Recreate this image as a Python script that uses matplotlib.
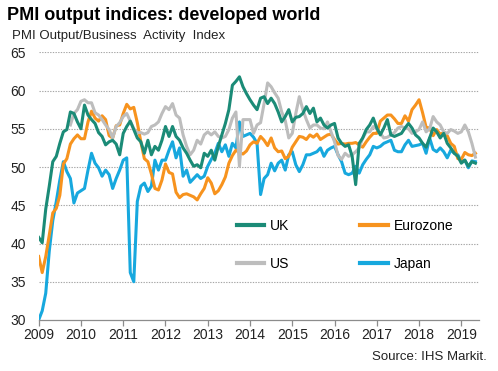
import numpy as np
import pandas as pd
import matplotlib
matplotlib.use("Agg")
import matplotlib.pyplot as plt

plt.rcParams['font.family'] = ['Liberation Sans', 'DejaVu Sans']

# ---- data (monthly, Jan 2009 - May 2019) ----
uk = [40.8, 40.1, 44.5, 47.5, 50.7, 51.4, 53.1, 54.6, 54.9, 57.2, 57.0, 55.9,
      55.0, 58.1, 56.8, 56.2, 55.7, 54.5, 54.0, 52.9, 53.3, 53.5, 53.0, 51.6,
      54.4, 55.3, 56.0, 54.9, 53.8, 53.3, 51.8, 53.5, 51.6, 52.7, 52.2, 53.5,
      55.3, 54.0, 55.3, 54.0, 53.5, 52.5, 51.8, 50.9, 50.1, 50.3, 49.9, 51.8,
      51.4, 52.2, 50.9, 52.7, 54.2, 55.7, 57.5, 60.7, 61.2, 61.8, 60.5, 59.6,
      58.8, 58.1, 57.5, 59.0, 59.2, 58.3, 59.0, 58.3, 57.2, 55.9, 56.6, 57.5,
      55.9, 56.5, 56.6, 57.0, 57.9, 57.0, 57.7, 55.9, 56.4, 55.5, 55.1, 55.5,
      55.7, 53.8, 53.1, 52.7, 52.9, 51.4, 47.7, 53.1, 53.8, 54.9, 55.5, 56.4,
      55.1, 54.2, 55.1, 56.2, 54.2, 54.0, 54.2, 54.4, 55.1, 55.7, 55.1, 54.2,
      53.8, 53.1, 52.6, 53.8, 55.1, 54.6, 53.8, 54.4, 53.1, 52.5, 51.8, 51.4,
      50.5, 50.9, 50.1, 50.7, 50.5]

eurozone = [38.3, 36.2, 38.3, 41.1, 44.0, 44.6, 46.3, 50.4, 51.1, 53.0, 53.7, 54.2,
            53.7, 53.7, 55.9, 57.3, 56.4, 56.0, 56.7, 56.2, 54.1, 53.8, 55.4, 55.5,
            57.0, 58.2, 57.6, 57.8, 55.8, 53.3, 51.1, 50.7, 49.1, 47.2, 47.0, 48.3,
            50.4, 49.3, 49.1, 46.7, 46.0, 46.4, 46.5, 46.3, 46.1, 45.7, 46.5, 47.2,
            48.6, 47.9, 46.5, 46.9, 47.7, 48.7, 50.5, 51.5, 52.2, 51.9, 51.7, 52.1,
            52.9, 53.3, 53.1, 54.0, 53.5, 52.8, 53.8, 52.5, 52.0, 52.1, 51.1, 51.4,
            52.6, 53.3, 54.0, 53.9, 53.6, 54.2, 53.9, 54.3, 53.6, 53.9, 54.2, 54.3,
            53.6, 53.0, 53.1, 53.0, 53.1, 53.1, 53.2, 52.9, 52.6, 53.3, 53.9, 54.4,
            54.4, 56.0, 56.4, 56.8, 56.8, 56.3, 55.7, 55.7, 56.7, 56.0, 57.5, 58.1,
            58.8, 57.1, 55.2, 55.1, 54.1, 54.9, 54.3, 54.5, 54.1, 53.1, 52.7, 51.1,
            51.0, 51.9, 51.6, 51.5, 51.8]

us = [np.nan] * 9 + [55.5, 57.0, 57.5,
      58.6, 58.8, 58.4, 58.4, 57.1, 56.8, 56.2, 55.5, 54.9, 53.8, 55.3, 55.8,
      56.6, 57.0, 56.0, 55.0, 54.5, 54.5, 54.3, 54.5, 55.3, 55.5, 55.9, 57.0,
      57.9, 57.5, 58.3, 56.8, 56.4, 54.2, 52.7, 51.6, 52.2, 53.5, 53.0, 54.2,
      54.6, 54.2, 54.6, 54.0, 53.8, 54.0, 54.9, 56.4, 57.2, 50.1, 56.2, 56.2,
      56.2, 54.4, 55.5, 55.8, 58.3, 61.0, 60.5, 59.7, 59.0, 57.2, 56.1, 53.8,
      54.4, 57.0, 59.2, 57.5, 56.2, 55.1, 55.5, 55.5, 55.1, 55.0, 55.9, 54.6,
      53.3, 51.5, 51.0, 51.8, 51.4, 51.6, 52.0, 52.5, 53.8, 54.6, 54.6, 55.3,
      55.0, 54.4, 53.8, 53.9, 54.2, 54.5, 55.1, 55.3, 55.1, 55.0, 54.4, 54.6,
      54.9, 55.9, 54.6, 55.0, 56.6, 55.9, 55.5, 54.6, 54.4, 54.9, 54.7, 54.4,
      54.6, 55.5, 54.6, 53.1, 51.3]

japan = [30.0, 31.2, 33.5, 39.0, 43.0, 45.5, 48.3, 50.7, 49.4, 48.5, 45.3, 46.6,
         46.9, 47.2, 49.6, 51.8, 50.5, 49.9, 48.8, 49.6, 49.0, 47.2, 48.5, 49.6,
         50.9, 51.2, 36.2, 35.0, 45.5, 47.5, 47.9, 46.8, 47.5, 50.9, 49.6, 50.9,
         50.9, 52.2, 53.3, 51.2, 52.5, 48.8, 49.6, 48.0, 48.5, 49.0, 48.5, 48.8,
         50.1, 51.0, 51.8, 53.1, 52.0, 52.9, 51.4, 53.1, 52.5, 55.9, 54.0, 54.2,
         54.4, 53.9, 53.1, 46.4, 48.5, 49.0, 50.5, 49.5, 50.5, 50.9, 49.6, 51.6,
         52.0, 50.3, 49.4, 50.3, 51.6, 51.6, 51.8, 52.0, 52.5, 51.4, 52.2, 52.5,
         52.7, 51.6, 50.7, 49.2, 49.0, 49.2, 50.1, 49.2, 50.3, 51.0, 51.6, 52.7,
         52.5, 52.7, 53.1, 53.3, 53.5, 52.2, 52.0, 52.0, 52.9, 53.5, 52.7, 52.8,
         52.9, 53.1, 51.8, 53.8, 52.3, 52.0, 52.5, 52.0, 51.2, 52.2, 51.8, 51.6,
         50.7, 50.9, 49.9, 50.8, 50.7]

months = pd.date_range("2009-01-01", periods=len(uk), freq="MS")
year_labels = [str(y) for y in range(2009, 2020)]

series = [("Japan", japan, "#17A8DE"), ("Eurozone", eurozone, "#F7931E"),
          ("US", us, "#BDBDBD"), ("UK", uk, "#1B8B77")]

# ---- figure ----
fig = plt.figure(figsize=(4.98, 3.71), dpi=100)
ax = fig.add_axes([0.0777, 0.1375, 0.9620 - 0.0777, 0.859 - 0.1375])

xpos = months.year + (months.month - 1) / 12.0
lines = {}
for z, (name, vals, col) in enumerate(series):
    ln, = ax.plot(xpos, vals, color=col, lw=2.2, zorder=3 + z,
                  solid_joinstyle="round", label=name)
    lines[name] = ln

ax.set_xlim(2009, 2019.42)
ax.set_ylim(30, 65)
ax.set_yticks(range(30, 66, 5))
ax.set_xticks(range(2009, 2020))
ax.set_xticklabels(year_labels)

for y in range(35, 66, 5):
    ax.axhline(y, color="#A6A6A6", lw=0.8, ls=(0, (1.2, 1.2)), zorder=1)

for s in ["top", "right", "left"]:
    ax.spines[s].set_visible(False)
ax.spines["bottom"].set_color("#8C8C8C")
ax.spines["bottom"].set_linewidth(0.9)
ax.tick_params(axis="x", length=4, width=0.9, color="#8C8C8C",
               labelsize=10, labelcolor="#222222", pad=2)
ax.tick_params(axis="y", length=0, labelsize=10, labelcolor="#222222", pad=9)

handles = [lines["UK"], lines["US"], lines["Eurozone"], lines["Japan"]]
leg = ax.legend(handles, [h.get_label() for h in handles], ncol=2,
                frameon=False, fontsize=10, handlelength=2.0,
                handletextpad=0.42, columnspacing=5.1, labelspacing=1.75,
                loc="upper left", bbox_to_anchor=(0.421, 0.4255))
for h in leg.legend_handles:
    h.set_linewidth(3)

fig.text(0.015, 0.947, "PMI output indices: developed world", fontsize=13,
         fontweight="bold", ha="left", va="baseline", color="#000000")
fig.text(0.0235, 0.896, "PMI Output/Business  Activity  Index", fontsize=9.5,
         ha="left", va="baseline", color="#222222")
fig.text(0.977, 0.030, "Source: IHS Markit.", fontsize=9.5,
         ha="right", va="baseline", color="#222222")

fig.savefig("out.png", dpi=100)
